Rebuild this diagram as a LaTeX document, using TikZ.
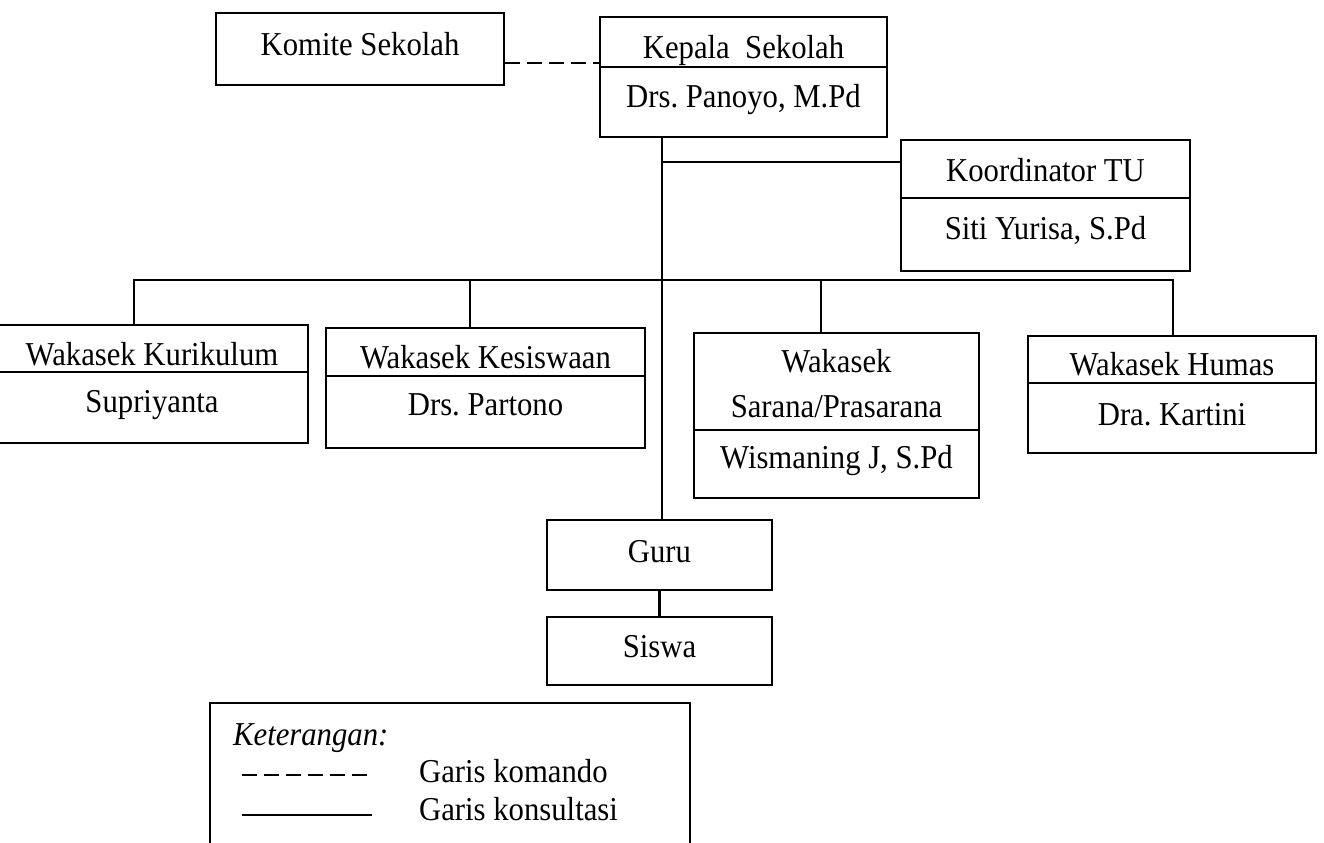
\documentclass[tikz,border=0pt]{standalone}
\usepackage{fontspec}
\setmainfont{Liberation Serif}[FakeStretch=0.92]
\usetikzlibrary{positioning}
\frenchspacing

\begin{document}
\begin{tikzpicture}[x=0.02cm,y=-0.02cm,line width=1.3pt,
    font=\fontsize{19pt}{23pt}\selectfont,
    box/.style={draw,inner sep=0pt},
    lbl/.style={anchor=base,inner sep=0pt},
    komando/.style={dash pattern=on 8.5pt off 4pt}]
  \clip (0,0) rectangle (1324,842);
  % boxes
  \node[box,minimum width=5.76cm,minimum height=1.44cm] (komite) at (360,49) {};
  \node[box,minimum width=5.74cm,minimum height=2.40cm] (kepala) at (743.5,77) {};
  \node[box,minimum width=5.78cm,minimum height=2.62cm] (koord) at (1045.5,205.5) {};
  \node[box,minimum width=6.24cm,minimum height=2.36cm] (kurikulum) at (152,384) {};
  \node[box,minimum width=6.38cm,minimum height=2.40cm] (kesiswaan) at (485.5,388) {};
  \node[box,minimum width=5.70cm,minimum height=3.30cm] (sarana) at (836.5,415.5) {};
  \node[box,minimum width=5.76cm,minimum height=2.34cm] (humas) at (1172,394.5) {};
  \node[box,minimum width=4.50cm,minimum height=1.40cm] (guru) at (659.5,555) {};
  \node[box,minimum width=4.50cm,minimum height=1.36cm] (siswa) [below=0.5cm of guru] {};
  \node[box,minimum width=9.60cm,minimum height=3.48cm] (legend) at (450,790) {};
  % dividers
  \draw (kepala.west |- 0,67) -- (kepala.east |- 0,67);
  \draw (koord.west |- 0,198) -- (koord.east |- 0,198);
  \draw (kurikulum.west |- 0,372) -- (kurikulum.east |- 0,372);
  \draw (kesiswaan.west |- 0,376) -- (kesiswaan.east |- 0,376);
  \draw (sarana.west |- 0,430) -- (sarana.east |- 0,430);
  \draw (humas.west |- 0,383) -- (humas.east |- 0,383);
  % texts
  \node[lbl] (komiteT) at (360,55) {Komite Sekolah};
  \node[lbl] (kepalaT) at (743.5,58) {Kepala\ \ Sekolah};
  \node[lbl] (kepalaN) at (743.5,107) {Drs. Panoyo, M.Pd};
  \node[lbl] (koordT) at (1045.5,181) {Koordinator TU};
  \node[lbl] (koordN) at (1045.5,239) {Siti Yurisa, S.Pd};
  \node[lbl] (kurikulumT) at (152,365) {Wakasek Kurikulum};
  \node[lbl] (kurikulumN) at (152,412) {Supriyanta};
  \node[lbl] (kesiswaanT) at (485.5,368) {Wakasek Kesiswaan};
  \node[lbl] (kesiswaanN) at (485.5,415) {Drs. Partono};
  \node[lbl] (saranaT) at (836.5,372) {Wakasek};
  \node[lbl] (saranaU) at (836.5,417) {Sarana/Prasarana};
  \node[lbl] (saranaN) at (836.5,468) {Wismaning J, S.Pd};
  \node[lbl] (humasT) at (1172,375) {Wakasek Humas};
  \node[lbl] (humasN) at (1172,425) {Dra. Kartini};
  \node[lbl] (guruT) at (659.5,562) {Guru};
  \node[lbl] (siswaT) at (659.5,657) {Siswa};
  % connectors
  \draw[komando] (komite.east |- 0,63) -- (kepala.west |- 0,63);
  \draw (guru.north -| 662,0) -- (kepala.south -| 662,0);
  \draw (662,162) -- (koord.west |- 0,162);
  \draw (kurikulum.north -| 134,0) -- (134,280) -- (1173,280) -- (humas.north -| 1173,0);
  \draw (470,280) -- (kesiswaan.north -| 470,0);
  \draw (821,280) -- (sarana.north -| 821,0);
  \draw (guru.south) -- (siswa.north);
  % legend
  \node[lbl,anchor=base west] (ket) at (232,745) {\itshape Keterangan:};
  \coordinate (kA) at (242,775);
  \coordinate (kB) at (367,775);
  \coordinate (sA) at (242,815);
  \coordinate (sB) at (372,815);
  \draw[komando] (kA) -- (kB);
  \draw (sA) -- (sB);
  \node[lbl,anchor=base west] (komandoT) at (418,782) {Garis komando};
  \node[lbl,anchor=base west] (konsulT) at (418,820) {Garis konsultasi};
\end{tikzpicture}
\end{document}
